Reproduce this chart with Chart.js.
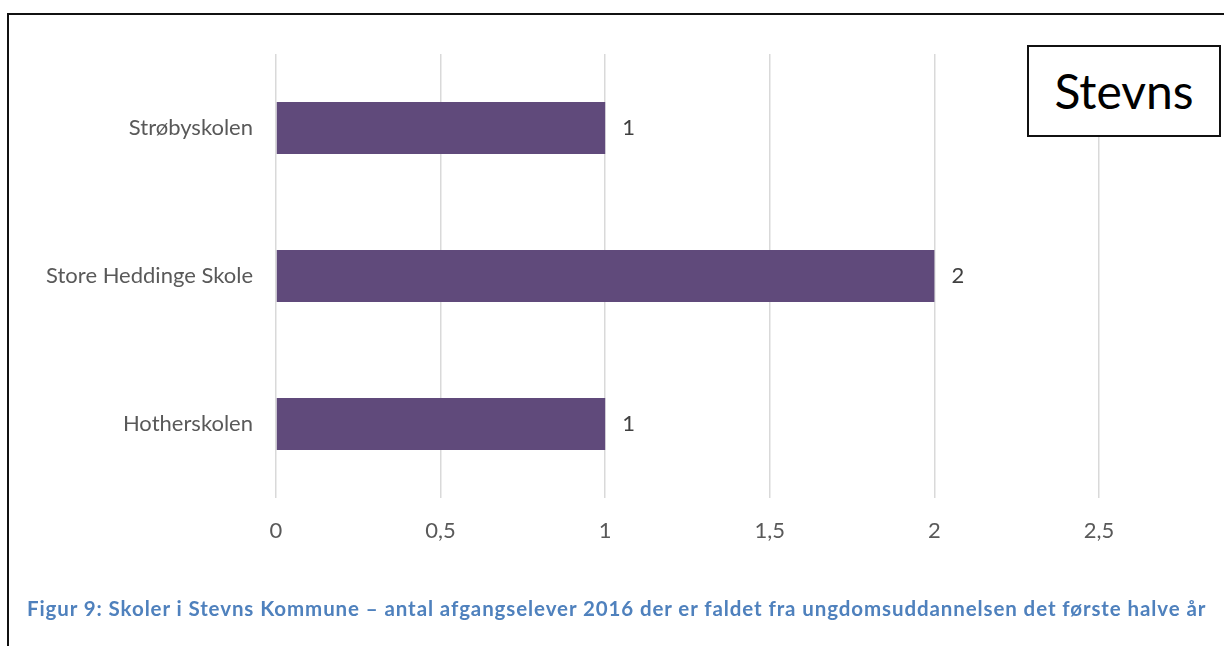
<!DOCTYPE html>
<html>
<head>
<meta charset="utf-8">
<script src="https://cdn.jsdelivr.net/npm/chart.js@4"></script>
<style>
	html, body { margin: 0; padding: 0; background: #fff; }
	body { width: 1224px; height: 646px; position: relative; overflow: hidden; font-family: Lato, "Open Sans", sans-serif; }
	.frame { position: absolute; left: 7px; top: 13px; width: 1230px; height: 650px; border-left: 2px solid #111; border-top: 2px solid #111; box-sizing: border-box; }
	.chartBox { position: absolute; left: 0; top: 0; width: 1224px; height: 646px; }
	.tag { position: absolute; left: 1027px; top: 45px; width: 194px; height: 92px; border: 2px solid #111; box-sizing: border-box; background: #fff; font-size: 48px; line-height: 88px; text-align: center; color: #000; }
	.caption { position: absolute; left: 27px; top: 596px; font-size: 20.5px; letter-spacing: 0.9px; font-weight: bold; color: #4f81bd; white-space: nowrap; }
</style>
</head>
<body>
<div class="frame"></div>
<div class="chartBox"><canvas id="chart" width="1224" height="646"></canvas></div>
<div class="tag">Stevns</div>
<div class="caption">Figur 9: Skoler i Stevns Kommune – antal afgangselever 2016 der er faldet fra ungdomsuddannelsen det første halve år</div>
<script>
const schools = ['Strøbyskolen', 'Store Heddinge Skole', 'Hotherskolen']
const dropouts = [1, 2, 1]
const axisMax = 2.5
const axisStep = 0.5

const ValueLabels = {
	id: 'valueLabels',
	afterDatasetsDraw: (chart) => {
		const { ctx } = chart;
		ctx.save();
		ctx.font = '22px Lato, "Open Sans", sans-serif';
		ctx.fillStyle = '#404040';
		ctx.textBaseline = 'middle';
		ctx.textAlign = 'left';
		chart.getDatasetMeta(0).data.forEach((bar, i) => {
			ctx.fillText(String(dropouts[i]), bar.x + 17, bar.y);
		});
		ctx.restore();
	}
}

const ctx = document.getElementById('chart').getContext('2d')
new Chart(ctx, {
	type: 'bar',
	data: {
		labels: schools,
		datasets: [{
			data: dropouts,
			backgroundColor: '#604a7b',
			borderWidth: 0,
			barPercentage: 0.35,
			categoryPercentage: 1
		}]
	},
	options: {
		indexAxis: 'y',
		responsive: false,
		animation: false,
		layout: {
			padding: { top: 54, right: 125, bottom: 0, left: 0 }
		},
		plugins: {
			legend: { display: false },
			tooltip: { enabled: false }
		},
		scales: {
			x: {
				min: 0,
				max: axisMax,
				border: { display: false },
				grid: { color: '#d9d9d9', lineWidth: 1.5, drawTicks: false },
				ticks: {
					stepSize: axisStep,
					padding: 20,
					color: '#595959',
					font: { family: 'Lato, "Open Sans", sans-serif', size: 22 },
					callback: (v) => String(v).replace('.', ',')
				},
				afterFit: (scale) => { scale.height = 148; }
			},
			y: {
				border: { display: false },
				grid: { display: false, drawTicks: false },
				ticks: {
					padding: 23,
					color: '#595959',
					font: { family: 'Lato, "Open Sans", sans-serif', size: 22 }
				},
				afterFit: (scale) => { scale.width = 276; }
			}
		}
	},
	plugins: [ValueLabels]
})
</script>
</body>
</html>
